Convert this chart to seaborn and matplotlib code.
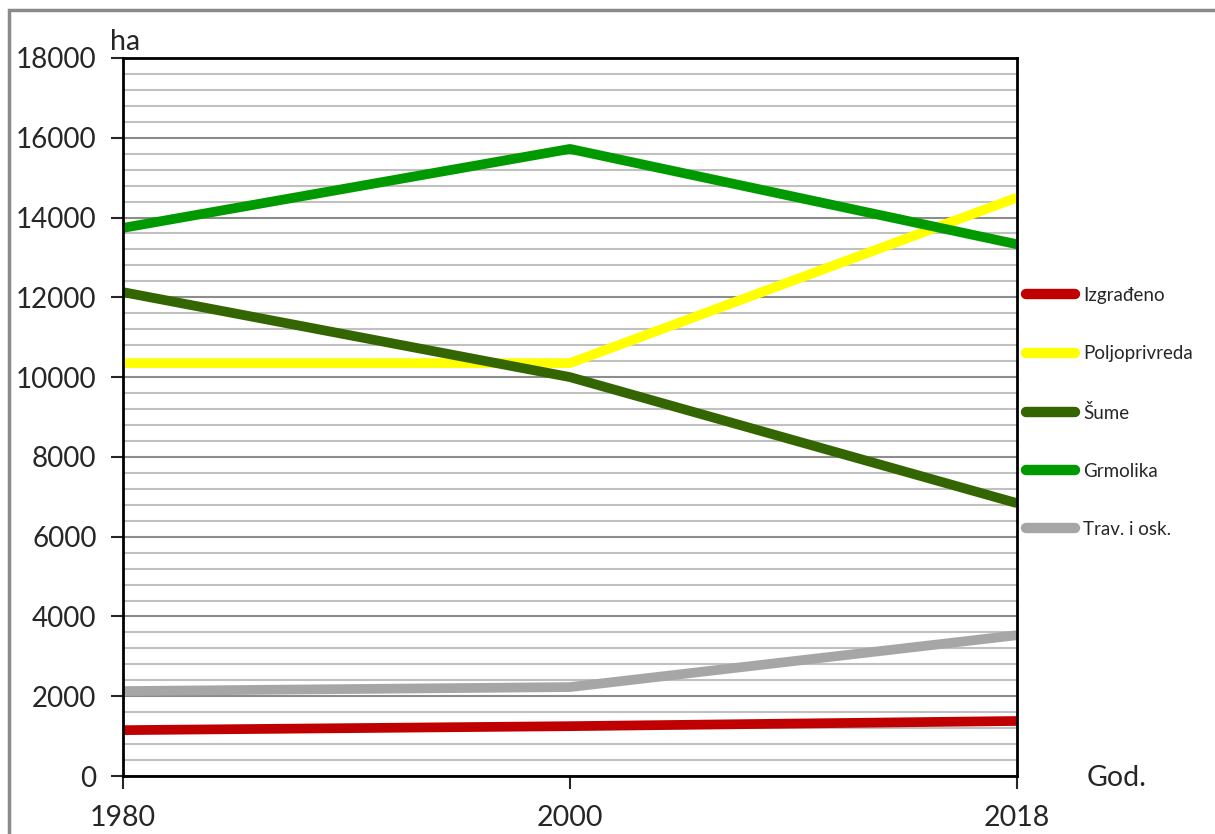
import pandas as pd
import seaborn as sns
import matplotlib.pyplot as plt
from matplotlib.patches import Rectangle
from matplotlib.ticker import MultipleLocator

years = ["1980", "2000", "2018"]
izgradeno = [1150, 1250, 1380]
poljoprivreda = [10350, 10350, 14500]
sume = [12130, 10000, 6840]
grmolika = [13740, 15720, 13330]
trav = [2130, 2230, 3530]

names = ["Izgrađeno", "Poljoprivreda", "Šume", "Grmolika", "Trav. i osk."]
colors = ["#c00000", "#ffff00", "#336600", "#009900", "#a6a6a6"]

rows = []
for name, vals in zip(names, [izgradeno, poljoprivreda, sume, grmolika, trav]):
    for i, (yr, v) in enumerate(zip(years, vals)):
        rows.append({"pos": i, "year": yr, "ha": v, "type": name})
df = pd.DataFrame(rows)

sns.set_style("white")
plt.rcParams["font.family"] = ["Lato", "DejaVu Sans"]

fig = plt.figure(figsize=(12.15, 8.34), dpi=100)
ax = fig.add_axes([0.1012, 0.0695, 0.7358, 0.861])

sns.lineplot(data=df, x="pos", y="ha", hue="type", hue_order=names,
             palette=dict(zip(names, colors)), linewidth=7, ax=ax,
             legend=True)
for ln in ax.get_lines():
    ln.set_solid_capstyle("butt")
    ln.set_clip_on(False)

ax.set_xlim(0, 2)
ax.set_ylim(0, 18000)
ax.set_xticks(range(len(years)))
ax.set_xticklabels(years)
ax.yaxis.set_major_locator(MultipleLocator(2000))
ax.yaxis.set_minor_locator(MultipleLocator(400))
ax.grid(which="major", axis="y", color="#8c8c8c", linewidth=1.5)
ax.grid(which="minor", axis="y", color="#c0c0c0", linewidth=1.5)
ax.grid(axis="x", visible=False)
ax.set_axisbelow(True)
ax.tick_params(axis="y", which="major", direction="out", length=9, width=1.5,
               labelsize=20, pad=10, left=True)
ax.tick_params(axis="y", which="minor", length=0)
ax.tick_params(axis="x", direction="out", length=9, width=1.5,
               labelsize=20.5, pad=12, bottom=True)
for s in ax.spines.values():
    s.set_color("black")
    s.set_linewidth(2)
ax.set_xlabel("")
ax.set_ylabel("")

ax.text(-0.015, 1.004, "ha", transform=ax.transAxes, fontsize=20.5, ha="left", va="bottom")
ax.text(1.078, -0.003, "God.", transform=ax.transAxes, fontsize=20.5, ha="left", va="center")

leg = ax.legend(loc="upper left", bbox_to_anchor=(1026 / 1215, 1 - 287 / 834),
                bbox_transform=fig.transFigure, frameon=False,
                fontsize=13.5, handlelength=2.6, handletextpad=0.45,
                labelspacing=2.2, borderaxespad=0, borderpad=0)
for h in leg.get_lines():
    h.set_linewidth(7.5)
    h.set_solid_capstyle("round")

fig.patches.append(Rectangle((9 / 1215, -0.1), 1.2, 1.1 - 10 / 834, transform=fig.transFigure,
                             fill=False, edgecolor="#8a8a8a", linewidth=2.5))

fig.savefig("out.png", dpi=100)
plt.close(fig)
